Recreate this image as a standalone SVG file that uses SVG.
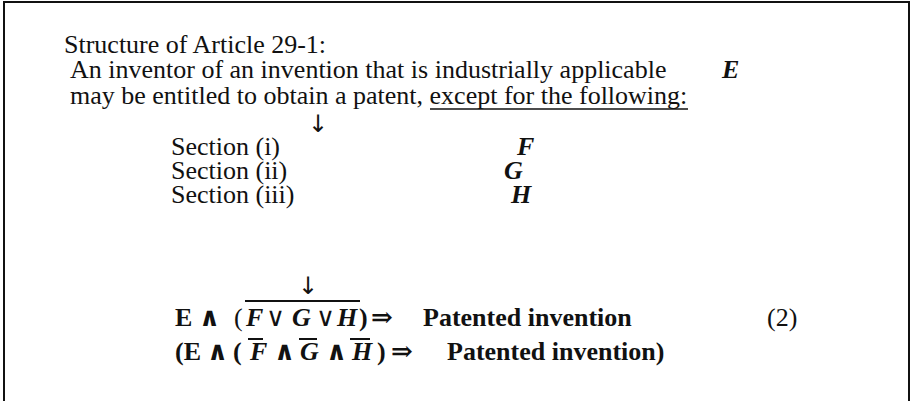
<svg xmlns="http://www.w3.org/2000/svg" width="910" height="401" viewBox="0 0 910 401">
<style>
text{font-family:"Liberation Serif","Times New Roman",serif;font-size:26px;fill:#111}
.b{font-weight:bold}
.bi{font-weight:bold;font-style:italic}
.sym{font-family:"DejaVu Serif","Liberation Serif",serif}
.arr{font-family:"DejaVu Sans","Liberation Serif",sans-serif;font-size:24px;font-weight:normal}
.ln{stroke:#111;stroke-width:2;fill:none}
</style>
<rect width="910" height="401" fill="#fff"/>
<path class="ln" d="M4,405 V2 H909 V405"/>
<g id="structure">
<text x="64" y="53">Structure of Article 29-1:</text>
<text x="70" y="78">An inventor of an invention that is industrially applicable</text>
<text class="bi" x="722" y="78">E</text>
<text x="70" y="104">may be entitled to obtain a patent, except for the following:</text>
<line x1="430" y1="109" x2="688" y2="109" stroke="#111" stroke-width="1.5"/>
<text class="arr" x="308" y="132">↓</text>
</g>
<g id="sections">
<text x="171" y="155">Section (i)</text>
<text class="bi" x="517" y="155">F</text>
<text x="171" y="179">Section (ii)</text>
<text class="bi" x="504" y="179">G</text>
<text x="171" y="203">Section (iii)</text>
<text class="bi" x="511" y="203">H</text>
</g>
<g id="formula">
<text class="arr" x="298" y="294">↓</text>
<text class="b" x="175" y="326">E</text>
<text class="b sym" x="199" y="326" font-size="28">∧</text>
<text x="234" y="326">(</text>
<text class="bi" x="246" y="326">F</text>
<text class="sym" x="266" y="326" font-size="20">∨</text>
<text class="bi" x="292" y="326">G</text>
<text class="sym" x="316" y="326" font-size="20">∨</text>
<text class="bi" x="337" y="326">H</text>
<text class="b" x="359" y="326">)</text>
<text class="b sym" x="371" y="326" font-size="24">⇒</text>
<text class="b" x="423" y="326">Patented invention</text>
<text x="767" y="326">(2)</text>
<line class="ln" x1="245" y1="301" x2="360" y2="301"/>
<text class="b" x="175" y="360">(E</text>
<text class="b sym" x="207" y="360" font-size="28">∧</text>
<text class="b" x="233" y="360">(</text>
<text class="bi" x="250" y="360">F</text>
<text class="b sym" x="274" y="360" font-size="28">∧</text>
<text class="bi" x="300" y="360">G</text>
<text class="b sym" x="326" y="360" font-size="28">∧</text>
<text class="bi" x="352" y="360">H</text>
<text class="b" x="377" y="360">)</text>
<text class="b sym" x="391" y="360" font-size="26">⇒</text>
<text class="b" x="447" y="360">Patented invention)</text>
<line class="ln" x1="248" y1="339" x2="263" y2="339"/>
<line class="ln" x1="299" y1="339" x2="317" y2="339"/>
<line class="ln" x1="350" y1="339" x2="370" y2="339"/>
</g>
</svg>
